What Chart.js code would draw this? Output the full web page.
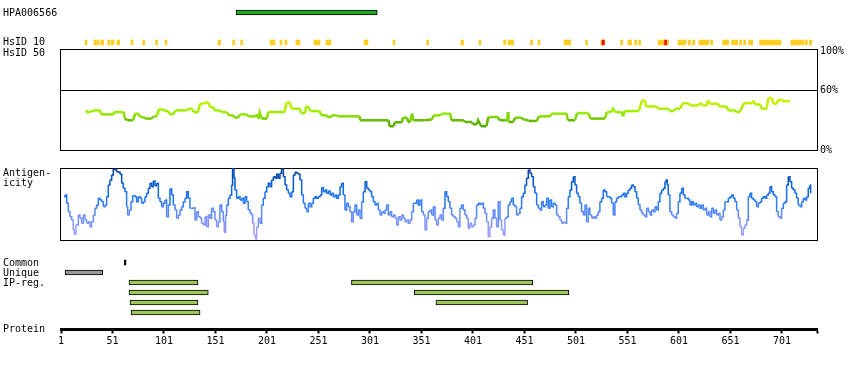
<!DOCTYPE html>
<html><head><meta charset="utf-8">
<script src="https://cdn.jsdelivr.net/npm/chart.js@4.4.1/dist/chart.umd.min.js"></script>
<style>
html,body{margin:0;padding:0;background:#fff;}
#wrap{position:relative;width:850px;height:370px;overflow:hidden;background:#fff;}
canvas{position:absolute;left:0;}
.lbl{position:absolute;left:3px;font:10px/10px "DejaVu Sans Mono",monospace;color:#000;white-space:pre;}
</style></head><body>
<div id="wrap">
<canvas id="cTop" width="850" height="50" style="top:0;width:850px;height:50px"></canvas>
<canvas id="cHs" width="850" height="120" style="top:40px;width:850px;height:120px"></canvas>
<canvas id="cAg" width="850" height="90" style="top:160px;width:850px;height:90px"></canvas>
<canvas id="cBot" width="850" height="70" style="top:250px;width:850px;height:70px"></canvas>
<canvas id="cAx" width="850" height="70" style="top:300px;width:850px;height:70px"></canvas>
<div class="lbl" style="top:7.5px">HPA006566</div>
<div class="lbl" style="top:37px">HsID 10</div>
<div class="lbl" style="top:47.5px">HsID 50</div>
<div class="lbl" style="top:167.5px">Antigen-
icity</div>
<div class="lbl" style="top:257.5px">Common</div>
<div class="lbl" style="top:267.5px">Unique</div>
<div class="lbl" style="top:277.5px">IP-reg.</div>
<div class="lbl" style="top:324px">Protein</div>
</div>
<script>
// ---- data ----
const X_MIN = 1, X_MAX = 735;
const antibodyName = 'HPA006566';
const antibodyRange = [171, 308];

const hsid10Start = [24.3,33,35.6,39.5,46.3,49.8,55.3,68.9,80.3,92.9,101.9,153.4,167.6,175.4,203.9,213.6,218.4,229.1,246.6,258.3,295.1,323.3,
  356,389.3,406.8,430.7,434.9,456.9,464.1,489.3,510.4,525.2,544.3,551.5,557.9,561.8,580.6,600,609.7,614.2,620.4,631.7,643.4,652.1,659.9,663.8,668.6,679.3,709.7,720,723.3,727.5];
const hsid10End = [26.2,35,37.9,42.4,48.5,52.4,58,70.9,82.2,94.8,103.9,156,169.6,177.4,208.7,215.5,220.4,233,252.4,263.1,299,325.2,
  358,391.9,408.7,432.7,440.5,458.9,466,495.8,512.3,529.1,546.3,555,559.9,563.8,590.9,607.5,612.3,616.2,629.8,633.7,649.2,658,661.8,665.7,672.5,700,719.1,722,725.6,729.8];
const hsid10RedStart = [526.2, 587];
const hsid10RedEnd = [528.5, 589];

const hsid50Ticks = [0, 60, 100];
const hsid50Pos = [25,27,34,39,40,52,52.5,62,63,66,71,73,76,78,81,83,89,91,94,96,100,102,105,107,110,112,123,125,128,130,134,136,139,142,144,146,149,150,155,157,162,164,168,170,173,175,181,183,190,191,193,194,196,201,202,218,220,223,225,233,234,238,239,241,243,252,254,259,261,262,264,269,270,291,291.5,319,320,324,325,332,333,337,338,340,342,343,354,
  361,363,369,371,379,380,392,393,400,401,405,406,408,409,414,416,425,427,434,435,435.5,440,442,448,450,453,455,463,465,476,477,492,493,500,502,513,515,529,531,535,537,539,545,547,548,562,565,568,569,579,581,591,592,596,597,602,605,610,612,620,621,623,624,628,629,631,639,641,642,647,649,655,657,660,664,672,673,675,680,681,686,688,691,693,696,697,701,702,709];
const hsid50Val = [40,38,40,40,36,36,38.3,38.3,31.7,30,30,36.7,36.7,33.3,33.3,31.7,31.7,34,34,41,41,39.3,39.3,36,36,40,40,41.7,41.7,38.3,38.3,46.7,46.7,48,48,43.3,43.3,40,40,38.3,38.3,35,35,32.7,32.7,36,36,34,34,36,31.7,38,31.7,31.7,38.3,38.3,48,48,41.7,41.7,37.3,37.3,44,44,39.3,39.3,35,35,32.7,32.7,35,35,34,34,30,30,24,24,28,28,32.7,32.7,28.3,28.3,36.7,30,30,
  30.7,35,35,36.7,36.7,30,30,28.3,28.3,26,26,30,26,24,24,33.3,33.3,30,30,38.3,28.3,28.3,32.7,32.7,30.7,30.7,29.3,29.3,34,34,36.7,36.7,30,30,37.3,37.3,31.7,31.7,38.3,38.3,41.7,38.3,38.3,34,39.3,39.3,50,50,44,44,41.7,41.7,39.3,39.3,41.7,41.7,47.3,47.3,45,45,47.3,47.3,45,45,50,46.7,46.7,43.3,44,44,40,40,38.3,38.3,47.3,47.3,50,46,46,41.7,41.7,52.7,52.7,46.7,46.7,50.7,50.7,49.3,49.3];

const antiPos = [3.9,4.9,6.5,8.1,9.7,11.3,12.9,13.9,15.5,17.8,19.4,21,22.7,24.3,25.9,27.5,29.1,30.7,32.4,34,35.6,37.2,38.8,40.5,42.1,43.7,45.3,46.9,48.5,50.2,51.8,53.4,55,56.6,58.3,59.9,61.5,63.1,64.7,65.7,67.3,68.9,70.6,72.8,74.4,76.1,77.7,79.3,80.9,82.5,84.1,85.8,87.4,89,90.6,92.2,93.9,95.5,97.1,98.7,100.3,101.9,103.6,105.2,106.8,108.4,110,111.7,113.3,114.9,116.5,118.1,119.7,121.4,123,124.6,126.2,127.8,129.4,131.1,132.7,134.3,135.9,137.5,139.2,140.8,142.4,144,145.6,147.2,148.9,150.5,152.1,153.7,155.3,157,158.6,159.5,160.8,161.8,163.4,165,166.7,167.6,168.9,169.9,171.5,173.1,174.8,176.4,178,179.6,181.2,182.8,
  184.5,186.1,187.1,188.4,189.7,191,192.6,194.2,195.8,197.4,199.1,200.7,202.3,203.9,205.5,207.2,208.8,210.4,212,213.6,215.2,216.9,218.5,220.1,221.7,223.3,225,226.6,228.2,229.8,231.4,233,234.7,236.3,237.9,239.5,241.1,242.8,244.4,246,247.6,249.2,250.8,252.5,254.1,255.7,257.3,258.9,260.6,262.2,263.8,265.4,267,268.6,270.3,271.9,273.5,275.1,276.7,278.4,280,281.6,283.2,284.8,286.4,288.1,289.7,291.3,292.9,294.5,296.2,297.8,299.4,301,302.6,304.2,305.9,307.5,309.1,310.7,312.3,314,315.6,317.2,318.8,320.4,322,323.7,325.3,326.9,328.5,330.1,331.8,333.4,335,336.6,338.2,339.8,341.5,343.1,344.7,346.3,347.9,349.5,351.2,352.8,354.4,356,357.6,359.3,360.9,362.5,364.1,365.7,367.3,369,
  370.5,372.1,373.8,375.4,377,378.6,380.2,381.8,383.5,385.1,386.7,388.3,389.9,391.6,393.2,394.8,396.4,398,399.6,401.3,402.9,404.5,406.1,407.7,409.4,411,412.6,414.2,415.8,417.4,419.1,420.7,422.3,423.9,425.5,427.2,428.8,430.4,432,433.6,435.2,436.9,438.5,440.1,441.7,443.3,445,446.6,448.2,449.8,451.4,453,454.7,456.3,457.9,459.5,461.1,462.8,464.4,466,467.6,469.2,470.8,472.5,474.1,475.7,477.3,478.9,480.6,482.2,483.8,485.4,487,488.6,490.3,491.9,493.5,495.1,496.7,498.4,500,501.6,503.2,504.8,506.4,508.1,509.7,511.3,512.9,514.5,516.2,517.8,519.4,521,522.6,524.2,525.9,527.5,529.1,530.7,532.3,533.9,535.6,537.2,538.8,540.4,542,543.7,545.3,546.9,548.5,550.1,551.7,
  553.4,555,556.6,558.3,559.9,561.5,563.1,564.7,566.3,568,569.6,571.2,572.8,574.4,576,577.7,579.3,580.9,582.5,584.1,585.8,587.4,588.4,589.6,590.6,592.2,593.9,595.5,597.1,598.7,600.3,601.9,603.6,605.2,606.8,608.4,610,611.7,613.3,614.9,616.5,618.1,619.7,621.4,623,624.6,626.2,627.8,629.5,631.1,632.7,634.3,635.9,637.5,639.2,640.8,642.4,644,645.6,647.3,648.9,650.5,652.1,653.7,655.3,657,658.6,660.2,661.8,663.4,665.1,666.7,668.3,669.9,671.5,673.1,674.8,676.4,678,679.6,681.2,682.9,684.5,686.1,687.7,689.3,690.9,692.6,694.2,695.8,697.4,699,700.6,702.3,703.9,705.5,707.1,708.7,710.4,712,713.6,715.2,716.8,718.4,720.1,721.7,723.3,724.9,726.5,728.2,728.8];
const antiVal = [43.3,45,36.7,28.3,23.3,20,10,5.7,15,25,21.7,16.7,25,20,16.7,18.3,13.3,18.3,25,31.7,35,41.7,40,38.3,33.3,35,43.3,55,60,65,71,70,68.3,67.7,65.7,56.7,51.7,48.3,33.3,25,30,38.3,44.3,43.3,38.3,43.3,41.7,36.7,38.3,43.3,46.7,51.7,56.7,53.3,59,54.3,56.7,41.7,38.3,33.3,36.7,40,23.3,35,51,45,35,30,21.7,25,30,33.3,38.3,41.7,48.3,41.7,31.7,31.7,32.3,20,28.3,23.3,21.7,16.7,15,23.3,13.3,25,21.7,31.7,28.3,20,13.3,18.3,35,28.3,18.3,7.7,25,35,41.7,45,55,71.7,61.7,50,41.7,43.3,40,41.7,36.7,43.3,38.3,30,
  26.7,25,16.7,5,1,13.3,21.7,16.7,35,41.7,48.3,53.3,56.7,53.3,60,63.3,61.7,65.7,61.7,66.7,71,63.3,55,50,46.7,43.3,48.3,65,67.7,66.7,65.7,60,45,36.7,31.7,28.3,36.7,33.3,36.7,41.7,43.3,41.7,43.3,45,52.3,48.3,50,46.7,49,45,46.7,43.3,45,41.7,45,53.3,56.7,45,30,36.7,33.3,28.3,18.3,28.3,35,25,30,21.7,38.3,48.3,58.3,51.7,50,48.3,43.3,38.3,35,36.7,30,25,28.3,26.7,30,35,25,28.3,23.3,25,21.7,15,23.3,20,25,21.7,18.3,20,16.7,20,28.3,36.7,36.7,40,35,40,28.3,25,10,21.7,28.3,30,25,33.3,20,15,21.7,25,
  20,31.7,48.3,43.3,38.3,31.7,25,23.3,21.7,18.3,13.3,31.7,35,30,25,21.7,11.7,16.7,13.3,15,21.7,35,36.7,35.7,36.7,31.7,26.7,18.3,3.3,13.3,21.7,30,21.7,13.3,38.3,20,10,5,21.7,23.3,35,38.3,41.7,35,33.3,25,26.7,31.7,43.3,46.7,55,61.7,70,66.7,63.3,53.3,46.7,35,31.7,30,38.3,33.3,35,41.7,31.7,40,33.3,36.7,35,25,23.3,20,16.7,17.7,16.7,31.7,43.3,50,58.3,63.3,55,46.7,43.3,36.7,28.3,25,35,18.3,31.7,25,21.7,23.3,21.7,25,28.3,38.3,41.7,50,48.3,43.3,43.3,41.7,36.7,25,38.3,41.7,43.3,43.3,45,46.7,43.3,46.7,50,
  51.7,55,53.3,48.3,41.7,35,30,26.7,25,23.3,31.7,28.3,25,30,28.3,33.3,30,38.3,46.7,50,51.7,58.3,60,55,45,28.3,25,23.3,21.7,26.7,38.3,46.7,51.7,45,41.7,41.7,40,35,38.3,35,36.7,33.3,35,31.7,35,30,31.7,25,28.3,23.3,31.7,26.7,30,25,26.7,20,23.3,30,38.3,38.3,41.7,43.3,45,41.7,38.3,30,21.7,13.3,5,11.7,15,20,43.3,46.7,41.7,40,38.3,33.3,36.7,38.3,41.7,43.3,41.7,45,46.7,53.3,48.3,45,43.3,28.3,23.3,21.7,31.7,36.7,38.3,55,63.3,58.3,51.7,50,46.7,41.7,35,33.3,38.3,41.7,40,43.3,51.7,55,46.7];

const bottomRows = ['Common','Unique','IP1','IP2','IP3','IP4'];
const commonStart = [62.5], commonEnd = [64];
const uniqueStart = [5], uniqueEnd = [41.5];
const ipStart = [67, 283, 67, 344, 68, 365, 69];
const ipEnd   = [134, 459, 144, 494, 134, 454, 136];
const ipRow   = ['IP1','IP1','IP2','IP2','IP3','IP3','IP4'];

const proteinTicks = [1,51,101,151,201,251,301,351,401,451,501,551,601,651,701];

// ---- helpers ----
const MONO = 'DejaVu Sans Mono';
Chart.defaults.font.family = MONO;
Chart.defaults.font.size = 10;
Chart.defaults.color = '#000';

function lerpColor(stops, v){
  if (v <= stops[0][0]) return stops[0][1];
  for (let i = 1; i < stops.length; i++){
    if (v <= stops[i][0]){
      const [a, ca] = stops[i-1], [b, cb] = stops[i];
      const t = (v - a) / (b - a);
      const p = s => [parseInt(s.slice(1,3),16), parseInt(s.slice(3,5),16), parseInt(s.slice(5,7),16)];
      const A = p(ca), B = p(cb);
      return 'rgb(' + A.map((x,k)=>Math.round(x + (B[k]-x)*t)).join(',') + ')';
    }
  }
  return stops[stops.length-1][1];
}
const hsidStops = [[24,'#55aa00'],[30,'#66bb00'],[34,'#88dd00'],[38,'#99ee00'],[44,'#b4f000'],[50,'#ccf000'],[54,'#e6ec00']];
const agStops = [[0,'#b0a8ff'],[10,'#9a9cff'],[20,'#7790fa'],[30,'#4d85f7'],[40,'#2277f5'],[50,'#0d66e8'],[60,'#0052c4'],[70,'#003d99']];

const framePlugin = {
  id: 'frame',
  beforeDatasetsDraw(chart){
    const a = chart.chartArea, c = chart.ctx;
    c.save(); c.strokeStyle = '#000'; c.lineWidth = 1;
    c.strokeRect(a.left - 0.5, a.top + 0.5, a.right - a.left + 1, a.bottom - a.top);
    c.restore();
  }
};
const xHidden = () => ({type:'linear', min:X_MIN, max:X_MAX, display:false});
const baseOpts = {responsive:false, animation:false, events:[], devicePixelRatio:1,
  plugins:{legend:{display:false}, tooltip:{enabled:false}}};

// ---- top tracks (dataset 0 is drawn on top) ----
new Chart(document.getElementById('cTop'), {
  type:'bar',
  data:{labels:['HPA','g1','g2','HsID10'], datasets:[
    {label:antibodyName, data:[{x:antibodyRange, y:'HPA'}], backgroundColor:'#22aa22', borderColor:'#000', borderWidth:1, borderSkipped:false, barThickness:5, grouped:false},
    {label:'HsID 10 red', data:hsid10RedStart.map((s,i)=>({x:[s, hsid10RedEnd[i]], y:'HsID10'})), backgroundColor:'#ee1111', borderWidth:0, barThickness:5, grouped:false},
    {label:'HsID 10', data:hsid10Start.map((s,i)=>({x:[s, hsid10End[i]], y:'HsID10'})), backgroundColor:'#ffcc22', borderWidth:0, barThickness:5, grouped:false}
  ]},
  options:{...baseOpts, indexAxis:'y', layout:{padding:{left:61, right:33, top:7.5, bottom:2.5}},
    scales:{x:xHidden(), y:{type:'category', display:false, offset:true}}}
});

// ---- HsID 50 ----
new Chart(document.getElementById('cHs'), {
  type:'line',
  data:{datasets:[{label:'HsID 50', data:hsid50Pos.map((x,i)=>({x, y:hsid50Val[i]})),
    borderColor:'#99ee00', borderWidth:2.5, pointRadius:0, fill:false, tension:0,
    segment:{borderColor: c => lerpColor(hsidStops, (c.p0.parsed.y + c.p1.parsed.y)/2)}}]},
  options:{...baseOpts, layout:{padding:{left:61, right:0, top:8, bottom:10}},
    scales:{
      x:xHidden(),
      y:{type:'linear', position:'right', min:0, max:102,
        afterBuildTicks: s => { s.ticks = hsid50Ticks.map(v => ({value:v})); },
        afterFit: s => { s.width = 33; },
        ticks:{padding:3, color:'#000', font:{family:MONO, size:10}, callback: v => v + '%'},
        grid:{drawTicks:false, lineWidth:1, color: c => (c.tick && c.tick.value === 60) ? '#000' : 'rgba(0,0,0,0)'},
        border:{display:false}}
    }},
  plugins:[framePlugin]
});

// ---- Antigenicity ----
new Chart(document.getElementById('cAg'), {
  type:'line',
  data:{datasets:[{label:'Antigenicity', data:antiPos.map((x,i)=>({x, y:antiVal[i]})),
    borderColor:'#2277f5', borderWidth:1.5, pointRadius:0, fill:false, stepped:true,
    segment:{borderColor: c => lerpColor(agStops, (c.p0.parsed.y + c.p1.parsed.y)/2)}}]},
  options:{...baseOpts, layout:{padding:{left:61, right:33, top:8, bottom:10}},
    scales:{x:xHidden(), y:{type:'linear', min:0, max:72, display:false}}},
  plugins:[framePlugin]
});

// ---- bottom tracks ----
new Chart(document.getElementById('cBot'), {
  type:'bar',
  data:{labels:bottomRows, datasets:[
    {label:'Common', data:commonStart.map((s,i)=>({x:[s, commonEnd[i]], y:'Common'})), backgroundColor:'#000', borderWidth:0, barThickness:5, grouped:false},
    {label:'Unique', data:uniqueStart.map((s,i)=>({x:[s, uniqueEnd[i]], y:'Unique'})), backgroundColor:'#999999', borderColor:'#000', borderWidth:1, borderSkipped:false, barThickness:5, grouped:false},
    {label:'IP-reg.', data:ipStart.map((s,i)=>({x:[s, ipEnd[i]], y:ipRow[i]})), backgroundColor:'#9dc75a', borderColor:'#000', borderWidth:1, borderSkipped:false, barThickness:5, grouped:false}
  ]},
  options:{...baseOpts, indexAxis:'y', layout:{padding:{left:61, right:33, top:7.5, bottom:2.5}},
    scales:{x:xHidden(), y:{type:'category', display:false, offset:true}}}
});

// ---- protein axis ----
new Chart(document.getElementById('cAx'), {
  type:'line',
  data:{datasets:[]},
  options:{...baseOpts, layout:{padding:{left:61, right:33, top:0, bottom:0}},
    scales:{
      x:{type:'linear', position:'bottom', min:X_MIN, max:X_MAX,
        afterBuildTicks: s => { s.ticks = proteinTicks.concat([X_MAX]).map(v => ({value:v})); },
        afterFit: s => { s.height = 40.5; },
        ticks:{autoSkip:false, maxRotation:0, padding:2, color:'#000', font:{family:MONO, size:10},
          callback: v => proteinTicks.includes(v) ? String(v) : ''},
        grid:{drawOnChartArea:false, drawTicks:true, tickLength:4, tickWidth:2, tickColor:'#000'},
        border:{display:true, color:'#000', width:3}},
      y:{display:false, min:0, max:1}
    }}
});
</script>
</body></html>
